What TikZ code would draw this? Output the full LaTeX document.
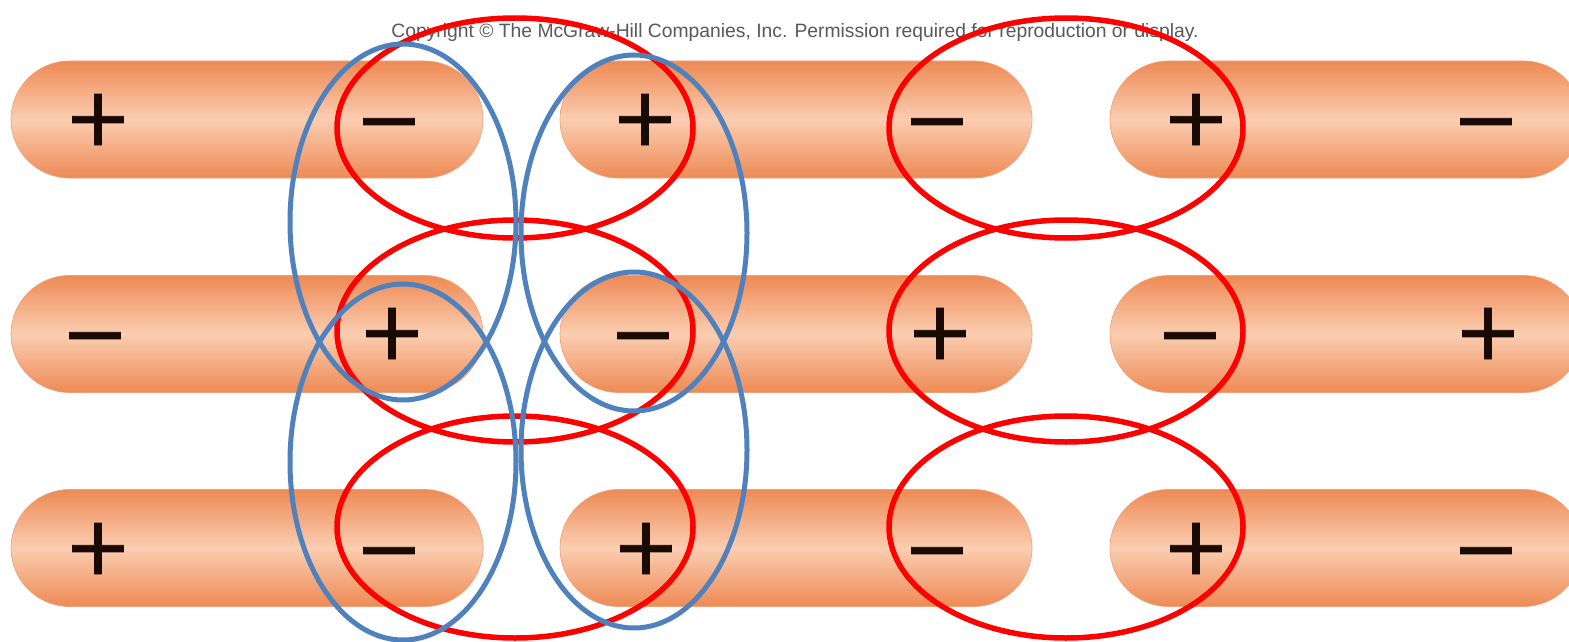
\documentclass[tikz,border=0pt]{standalone}
\usepackage{fontspec}
\newfontfamily\signfont[FakeBold=1.2]{DejaVu Sans}
\newfontfamily\copyfont{Liberation Sans}
\usetikzlibrary{shapes.misc}
\definecolor{capedge}{HTML}{EE8A55}
\definecolor{capmid}{HTML}{FBCDB1}
\definecolor{signcol}{HTML}{1A0A04}
\definecolor{redring}{HTML}{FF0000}
\definecolor{bluering}{HTML}{4F81BD}
\tikzset{
  capsule/.style={rounded rectangle, minimum width=472pt, minimum height=117pt,
    inner sep=0pt, top color=capedge, bottom color=capedge, middle color=capmid,
    draw=capedge!80!white, line width=0.6pt},
  sign/.style={anchor=base, inner sep=0pt, text=signcol, font=\signfont\fontsize{81}{81}\selectfont},
  redring/.style={draw=redring, line width=5.5pt},
  bluering/.style={draw=bluering, line width=5pt},
  copytext/.style={font=\copyfont\fontsize{19.3}{19.3}\selectfont, text=black!65}
}
\begin{document}
\begin{tikzpicture}[x=1pt,y=-1pt]
\clip (0,0) rectangle (1569,642);
\fill[white] (0,0) rectangle (1569,642);
% capsules
\foreach \r/\y in {1/119.5,2/334,3/548}{
  \node[capsule] (c\r a) at (247,\y) {};
  \node[capsule] (c\r b) at (796,\y) {};
  \node[capsule] (c\r c) at (1346,\y) {};
}
% signs
\newcommand{\plusat}[3]{\node[sign] (#1) at (#2,#3+26) {+};}
\newcommand{\minusat}[3]{\node[sign] (#1) at (#2,#3+26) {−};}
\plusat{p1}{98}{119}
\minusat{m1}{389}{121}
\plusat{p2}{645}{119}
\minusat{m2}{937}{121}
\plusat{p3}{1196}{119}
\minusat{m3}{1486}{121}
\minusat{m4}{95}{335}
\plusat{p4}{392}{333}
\minusat{m5}{643}{335}
\plusat{p5}{940}{333}
\minusat{m6}{1190}{335}
\plusat{p6}{1488}{333}
\plusat{p7}{98}{548}
\minusat{m7}{389}{550}
\plusat{p8}{646}{548}
\minusat{m8}{937}{550}
\plusat{p9}{1196}{548}
\minusat{m9}{1486}{550}
% copyright
\node[copytext] (copy) at (795,33) {Copyright © The McGraw-Hill Companies, Inc. Permission required for reproduction or display.};
% red ellipses
\foreach \x/\rx in {515/178,1066/177}{
  \draw[redring] (\x,128) ellipse [x radius=\rx, y radius=110];
  \draw[redring] (\x,331) ellipse [x radius=\rx, y radius=111];
  \draw[redring] (\x,527) ellipse [x radius=\rx, y radius=111];
}
% blue ellipses
\draw[bluering] (403,222) ellipse [x radius=113, y radius=178];
\draw[bluering] (403,462) ellipse [x radius=113, y radius=178];
\draw[bluering] (634,233) ellipse [x radius=113, y radius=178];
\draw[bluering] (634,450) ellipse [x radius=113, y radius=178];
\end{tikzpicture}
\end{document}
